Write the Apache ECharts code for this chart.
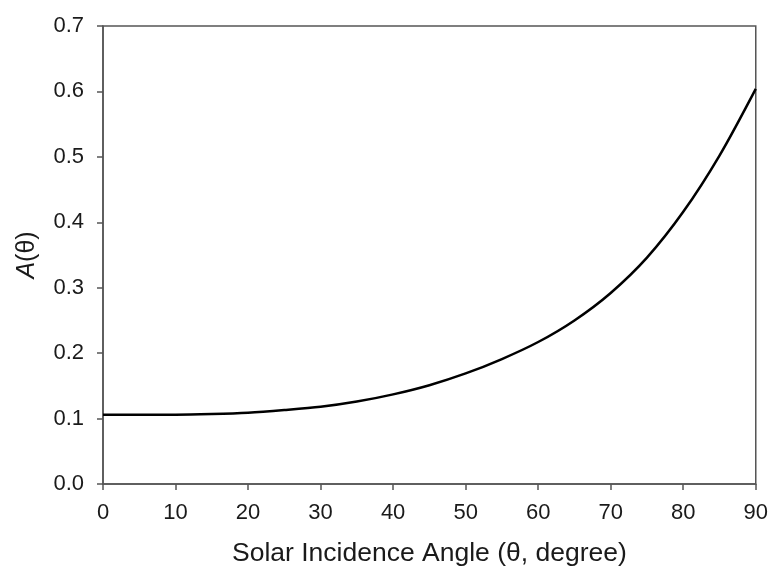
<!DOCTYPE html>
<html>
<head>
<meta charset="utf-8">
<title>A(θ) vs solar incidence angle</title>
<script src="https://cdn.jsdelivr.net/npm/echarts@6/dist/echarts.min.js"></script>
<style>
  html, body { margin: 0; padding: 0; background: #fff; }
  #chart { width: 771px; height: 573px; }
</style>
</head>
<body>
<div id="chart"></div>
<script>
// Incidence angle (degrees) and corresponding A(θ)
const angles = [0, 5, 10, 15, 20, 25, 30, 35, 40, 45, 50, 55, 60, 65, 70, 75, 80, 85, 90];
const aValues = [0.106, 0.106, 0.106, 0.107, 0.109, 0.113, 0.118, 0.126, 0.137, 0.151,
                 0.169, 0.191, 0.217, 0.250, 0.292, 0.346, 0.416, 0.502, 0.604];

const xTicks = { min: 0, max: 90, interval: 10 };
const yTicks = { min: 0, max: 0.7, interval: 0.1 };

const points = angles.map((a, i) => [a, aValues[i]]);

const font = 'Liberation Sans, Arial, sans-serif';
const frameColor = '#555';
const textColor = '#1a1a1a';

const chart = echarts.init(document.getElementById('chart'), null, { renderer: 'canvas' });

chart.setOption({
  backgroundColor: '#fff',
  animation: false,
  grid: {
    left: 103, right: 14, top: 26, bottom: 89,
    show: true, borderColor: frameColor, borderWidth: 1.5, backgroundColor: 'transparent'
  },
  xAxis: {
    type: 'value',
    min: xTicks.min, max: xTicks.max, interval: xTicks.interval,
    name: 'Solar Incidence Angle (θ, degree)',
    nameLocation: 'middle',
    nameGap: 56,
    nameTextStyle: { fontFamily: font, fontSize: 26.5, color: textColor },
    axisLine: { show: true, lineStyle: { color: frameColor, width: 1.5 } },
    axisTick: { show: true, inside: false, length: 6, lineStyle: { color: frameColor, width: 1.5 } },
    axisLabel: { fontFamily: font, fontSize: 22, color: textColor, margin: 18,
                 formatter: v => String(v) },
    splitLine: { show: false }
  },
  yAxis: {
    type: 'value',
    min: yTicks.min, max: yTicks.max, interval: yTicks.interval,
    name: '{it|A}(θ)',
    nameLocation: 'middle',
    nameGap: 63,
    nameRotate: 90,
    nameTextStyle: {
      fontFamily: font, fontSize: 25, color: textColor,
      rich: { it: { fontFamily: font, fontSize: 25, fontStyle: 'italic', color: textColor } }
    },
    axisLine: { show: true, lineStyle: { color: frameColor, width: 1.5 } },
    axisTick: { show: true, inside: false, length: 6, lineStyle: { color: frameColor, width: 1.5 } },
    axisLabel: { fontFamily: font, fontSize: 22, color: textColor, margin: 19,
                 formatter: v => v.toFixed(1) },
    splitLine: { show: false }
  },
  series: [{
    type: 'line',
    data: points,
    smooth: 0.3,
    showSymbol: false,
    lineStyle: { color: '#000', width: 2.5 },
    clip: false
  }]
});
</script>
</body>
</html>
